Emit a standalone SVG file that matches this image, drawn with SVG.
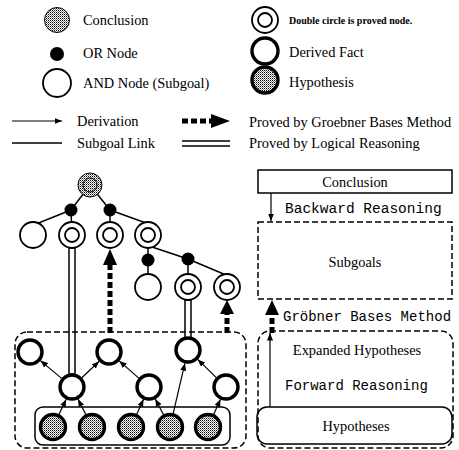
<svg xmlns="http://www.w3.org/2000/svg" width="459" height="450" viewBox="0 0 459 450">
<defs>
<pattern id="dots" width="2" height="2" patternUnits="userSpaceOnUse"><rect width="2" height="2" fill="#fff"/><rect width="1" height="1" fill="#000"/><rect x="1" y="1" width="1" height="1" fill="#000" opacity="0.5"/></pattern>
<marker id="ah" viewBox="0 0 10 8" refX="10" refY="4" markerWidth="7.5" markerHeight="6" markerUnits="userSpaceOnUse" orient="auto"><path d="M0,0 L10,4 L0,8 Z" fill="#000"/></marker>
</defs>
<style>
.t{font-family:"Liberation Serif","Times New Roman",serif;font-size:14.4px;fill:#000}
.m{font-family:"Liberation Mono","Courier New",monospace;font-size:14px;fill:#000}
.sb{font-family:"Liberation Serif","Times New Roman",serif;font-size:10px;font-weight:bold;fill:#000}
.and{fill:#fff;stroke:#000;stroke-width:1.8}
.der{fill:#fff;stroke:#000;stroke-width:3.4}
.hyp{fill:url(#dots);stroke:#000;stroke-width:3.4}
.or{fill:#000}
.ln{stroke:#000;stroke-width:1.5;fill:none}
.arr{stroke:#000;stroke-width:1.2;fill:none;marker-end:url(#ah)}
.dl{stroke:#000;stroke-width:1.5;fill:none}
.gb{stroke:#000;stroke-width:5;fill:none;stroke-dasharray:6 3}
.dash{stroke:#000;stroke-width:1.5;fill:none;stroke-dasharray:6 3}
</style>

<g id="legend">
<g id="leg-conclusion"><circle cx="57" cy="20" r="12.5" fill="url(#dots)" stroke="#000" stroke-width="1"/><text class="t" x="83" y="25">Conclusion</text></g>
<g id="leg-or"><circle class="or" cx="57" cy="54" r="7"/><text class="t" x="83" y="58">OR Node</text></g>
<g id="leg-and"><circle class="and" cx="57" cy="83" r="14"/><text class="t" x="83" y="88">AND Node (Subgoal)</text></g>
<g id="leg-proved"><circle class="and" cx="265" cy="20" r="13"/><circle class="and" cx="265" cy="20" r="7"/><text class="sb" x="289" y="24">Double circle is proved node.</text></g>
<g id="leg-derived"><circle class="der" cx="265" cy="51" r="13"/><text class="t" x="289" y="57">Derived Fact</text></g>
<g id="leg-hyp"><circle class="hyp" cx="265" cy="80" r="13"/><text class="t" x="289" y="87">Hypothesis</text></g>
<g id="leg-derivation"><line class="arr" x1="12" y1="121" x2="62" y2="121"/><text class="t" x="77" y="126">Derivation</text></g>
<g id="leg-subgoal"><line class="ln" x1="12" y1="143" x2="62" y2="143"/><text class="t" x="77" y="148">Subgoal Link</text></g>
<g id="leg-groebner"><line class="gb" x1="182" y1="121" x2="213" y2="121"/><polygon points="211,114 230,121 211,128" fill="#000"/><text class="t" x="249" y="127">Proved by Groebner Bases Method</text></g>
<g id="leg-logical"><line class="dl" x1="182" y1="141" x2="230" y2="141"/><line class="dl" x1="182" y1="146" x2="230" y2="146"/><text class="t" x="249" y="148">Proved by Logical Reasoning</text></g>
</g>

<g id="connectors">
<line class="ln" x1="90" y1="185" x2="71" y2="210"/>
<line class="ln" x1="90" y1="185" x2="110" y2="210"/>
<line class="ln" x1="71" y1="210" x2="36" y2="224"/>
<line class="ln" x1="71" y1="210" x2="72" y2="235"/>
<line class="ln" x1="110" y1="210" x2="110" y2="235"/>
<line class="ln" x1="110" y1="210" x2="146" y2="223"/>
<line class="ln" x1="148" y1="235" x2="148" y2="287"/>
<line class="ln" x1="152" y1="247" x2="188" y2="259"/>
<line class="ln" x1="188" y1="259" x2="188" y2="287"/>
<line class="ln" x1="188" y1="259" x2="226" y2="275"/>
<rect x="69" y="248" width="6" height="126" fill="#fff" stroke="#000" stroke-width="1.5"/>
<rect x="185" y="300" width="6" height="38" fill="#fff" stroke="#000" stroke-width="1.5"/>
<line class="gb" x1="110" y1="333" x2="110" y2="263"/>
<polygon points="103,265 110,249 117,265" fill="#000"/>
<line class="gb" x1="227" y1="333" x2="227" y2="312"/>
<polygon points="220,314 227,300 234,314" fill="#000"/>
<line class="arr" x1="61.6" y1="378.4" x2="40.4" y2="360.6"/>
<line class="arr" x1="81.8" y1="377.7" x2="99.2" y2="361.3"/>
<line class="arr" x1="138.8" y1="378.1" x2="119.2" y2="360.9"/>
<line class="arr" x1="216.3" y1="377.6" x2="197.7" y2="359.4"/>
<line class="arr" x1="173.1" y1="413.9" x2="184.9" y2="363.2"/>
<line class="arr" x1="58.8" y1="414.8" x2="66.2" y2="399.2"/>
<line class="arr" x1="86" y1="414.9" x2="78" y2="399.1"/>
<line class="arr" x1="136.5" y1="414.7" x2="143.5" y2="399.3"/>
<line class="arr" x1="163.7" y1="415" x2="155.3" y2="399"/>
<line class="arr" x1="213.5" y1="414.7" x2="220.5" y2="399.3"/>
<line class="arr" x1="271" y1="193" x2="271" y2="221"/>
<line class="arr" x1="270" y1="407" x2="270" y2="333"/>
<line class="gb" x1="272" y1="333" x2="272" y2="314"/>
<polygon points="265,315 272,300 279,315" fill="#000"/>
</g>

<g id="boxes">
<rect id="left-outer" class="dash" x="15" y="332" width="231" height="116" rx="12"/>
<rect id="hyp-box" x="35" y="407" width="195" height="38" rx="8" fill="none" stroke="#000" stroke-width="1.5"/>
</g>

<g id="tree">
<g id="root"><circle cx="90" cy="185" r="12" fill="url(#dots)" stroke="#000" stroke-width="1"/><circle cx="90" cy="185" r="7" fill="url(#dots)" stroke="#000" stroke-width="1"/></g>
<g id="or1"><circle class="or" cx="71" cy="210" r="6.5"/></g>
<g id="or2"><circle class="or" cx="110" cy="210" r="6.5"/></g>
<g id="n1"><circle class="and" cx="33" cy="235" r="13"/></g>
<g id="n2"><circle class="and" cx="72" cy="235" r="13"/><circle class="and" cx="72" cy="235" r="7"/></g>
<g id="n3"><circle class="and" cx="110" cy="235" r="13"/><circle class="and" cx="110" cy="235" r="7"/></g>
<g id="n4"><circle class="and" cx="148" cy="235" r="13"/><circle class="and" cx="148" cy="235" r="7"/></g>
<g id="or3"><circle class="or" cx="148" cy="260" r="6.5"/></g>
<g id="or4"><circle class="or" cx="188" cy="259" r="6.5"/></g>
<g id="n5"><circle class="and" cx="148" cy="287" r="13"/></g>
<g id="n6"><circle class="and" cx="188" cy="287" r="13"/><circle class="and" cx="188" cy="287" r="7"/></g>
<g id="n7"><circle class="and" cx="227" cy="287" r="13"/><circle class="and" cx="227" cy="287" r="7"/></g>
<g id="d1"><circle class="der" cx="30" cy="352" r="12"/></g>
<g id="d2"><circle class="der" cx="109" cy="352" r="12"/></g>
<g id="d3"><circle class="der" cx="188" cy="350" r="12"/></g>
<g id="d4"><circle class="der" cx="72" cy="387" r="12"/></g>
<g id="d5"><circle class="der" cx="149" cy="387" r="12"/></g>
<g id="d6"><circle class="der" cx="226" cy="387" r="12"/></g>
<g id="h1"><circle class="hyp" cx="53" cy="427" r="12.5"/></g>
<g id="h2"><circle class="hyp" cx="92" cy="427" r="12.5"/></g>
<g id="h3"><circle class="hyp" cx="131" cy="427" r="12.5"/></g>
<g id="h4"><circle class="hyp" cx="170" cy="427" r="12.5"/></g>
<g id="h5"><circle class="hyp" cx="208" cy="427" r="12.5"/></g>
</g>

<g id="right">
<g id="r-conclusion"><rect x="258" y="170" width="194" height="23" fill="none" stroke="#000" stroke-width="1.5"/><text class="t" x="355" y="187" text-anchor="middle">Conclusion</text></g>
<text class="m" x="285" y="213" style="font-size:14.5px">Backward Reasoning</text>
<g id="r-subgoals"><rect class="dash" x="258" y="222" width="194" height="77"/><text class="t" x="355" y="267" text-anchor="middle">Subgoals</text></g>
<text class="m" x="283" y="321">Gröbner Bases Method</text>
<g id="r-expanded"><rect class="dash" x="258" y="331" width="195" height="117" rx="12"/><text class="t" x="357" y="355" text-anchor="middle">Expanded Hypotheses</text></g>
<text class="m" x="285" y="390">Forward Reasoning</text>
<g id="r-hyp"><rect x="257" y="407" width="195" height="37" rx="10" fill="none" stroke="#000" stroke-width="1.5"/><text class="t" x="356" y="431" text-anchor="middle">Hypotheses</text></g>
</g>
</svg>
